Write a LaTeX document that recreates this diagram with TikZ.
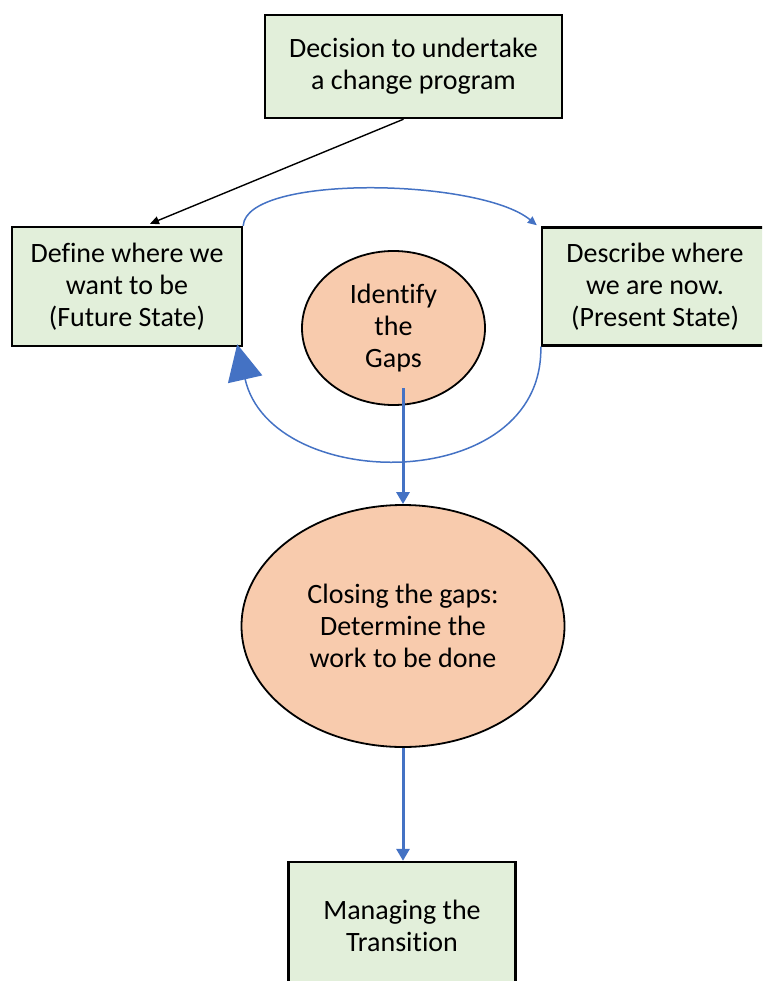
\documentclass[tikz,border=0pt]{standalone}
\usepackage{fontspec}
\setmainfont[Ligatures=CommonOff]{Carlito}
\usetikzlibrary{arrows.meta,calc,shapes.geometric}
\definecolor{boxgreen}{HTML}{E2EFDA}
\definecolor{peach}{HTML}{F8CBAD}
\definecolor{flowblue}{HTML}{4472C4}
\begin{document}
\begin{tikzpicture}[x=1pt,y=-1pt,
  every node/.style={font=\fontsize{28}{32}\selectfont, align=center, inner sep=0pt},
  stagebox/.style={draw=black, line width=2.4pt, fill=boxgreen, rectangle},
  gapoval/.style={draw=black, line width=1.8pt, fill=peach, ellipse},
  loopline/.style={draw=flowblue, line width=1.5pt},
  flowline/.style={draw=flowblue, line width=3pt, -{Triangle[length=12pt,width=13pt]}},
  startline/.style={draw=black, line width=1.4pt, -{Triangle[length=9pt,width=8pt]}}]
\useasboundingbox (0,0) rectangle (762,981);
\clip (0,0) rectangle (762,981);

% boxes
\node[stagebox, minimum width=297pt, minimum height=103pt] (decide) at (413.5,66.5)
  {Decision to undertake\\a change program};
\node[stagebox, minimum width=230pt, minimum height=119pt] (future) at (127,286.5)
  {Define where we\\want to be\\(Future State)};
\node[stagebox, minimum width=226pt, minimum height=118pt] (present) at (655,286.5)
  {Describe where\\we are now.\\(Present State)};
\node[stagebox, minimum width=227pt, minimum height=128pt] (transition) at (402,926)
  {Managing the\\Transition};

% ovals
\node[gapoval, minimum width=183pt, minimum height=154pt] (gaps) at (393.5,328)
  {Identify\\the\\Gaps};
\node[gapoval, minimum width=323pt, minimum height=242pt] (closing) at (403,626)
  {Closing the gaps:\\Determine the\\work to be done};

\coordinate (gapsout) at (403,388);

% connectors
\draw[startline] ($(decide.south)+(-10,0)$) -- ($(future.north)+(23,-2)$);
\draw[loopline, -{Triangle[length=9pt,width=8pt]}]
  (future.north east) .. controls +(3,-52) and +(-57,-47) .. ($(present.north west)+(-4,-1)$);
\draw[loopline, -{Triangle[length=36pt,width=35pt]}]
  (present.south west) .. controls +(3,149) and +(34,150) .. ($(future.south east)+(-6,-3)$);
\draw[flowline] (gapsout) -- (gapsout |- closing.north);
\draw[flowline] (closing.south) -- (closing.south |- transition.north);
\end{tikzpicture}
\end{document}
